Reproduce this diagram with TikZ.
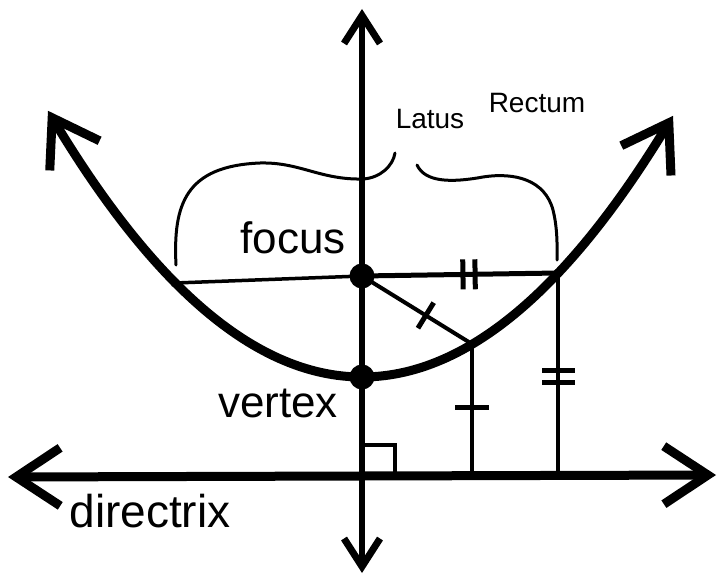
\documentclass[tikz,border=0pt]{standalone}
\usepackage{fontspec}
\setmainfont{Liberation Sans}
\usetikzlibrary{arrows.meta}
\begin{document}
\begin{tikzpicture}[x=1pt,y=-1pt,
  bigtip/.tip={Straight Barb[length=44pt,width=58pt,line width=9pt]},
  axtip/.tip={Straight Barb[length=28pt,width=36pt,line width=7pt]},
  curve/.style={line width=9pt,{bigtip}-{bigtip}},
  yaxis/.style={line width=6.5pt,{axtip}-{axtip}},
  dirline/.style={line width=9pt,{bigtip}-{bigtip}},
  thin/.style={line width=4pt},
  bigdot/.style={circle,fill=black,inner sep=0pt,minimum size=25pt},
  smalldot/.style={circle,fill=black,inner sep=0pt,minimum size=9pt},
  tickmark/.style={sloped,fill=black,inner sep=0pt,minimum width=5pt,minimum height=30pt},
  bracepen/.style={line width=3pt,line cap=round},
  lbl/.style={font=\fontsize{44}{48}\selectfont,inner sep=0pt},
  hand/.style={font=\fontsize{28}{30}\selectfont,inner sep=0pt}]
\useasboundingbox (0,0) rectangle (720,575);
% key points
\coordinate (Ytop) at (362,9);
\coordinate (Ybot) at (362,573);
\coordinate (Dl) at (8,477);
\coordinate (Dr) at (716,475);
\coordinate (L) at (175,283);
\coordinate (R) at (558,273);
\coordinate (P) at (472,344);
\coordinate (Pd) at (472,476);
\coordinate (Rd) at (558,476);
\coordinate (Bx1) at (362,445);
\coordinate (Bx2) at (395,476);
% axes
\draw[yaxis] (Ybot) -- (Ytop);
\draw[dirline] (Dl) -- (Dr);
% right angle box
\draw[thin] (Bx1) rectangle (Bx2);
% parabola
\draw[curve,domain=48:673,samples=120] plot (\x,{377-0.27*((\x-362)/10)^2});
% nodes
\node[bigdot] (F) at (362,276) {};
\node[bigdot] (V) at (362,377) {};
\node[smalldot] (Ld) at (L) {};
\node[smalldot] (Rdot) at (R) {};
% latus rectum
\draw[line width=3.5pt] (Ld.center) -- (F.center);
\draw[line width=5pt] (F.center) -- (Rdot.center)
  node[tickmark,pos=0.515] {} node[tickmark,pos=0.577] {};
% focus to P
\draw[thin] (F.center) -- (P) node[tickmark,pos=0.58] {};
% verticals
\draw[thin] (P) -- (Pd) node[tickmark,pos=0.48,minimum height=34pt] {};
\draw[thin] (Rdot.center) -- (Rd)
  node[tickmark,pos=0.48,minimum height=33pt] {}
  node[tickmark,pos=0.54,minimum height=33pt] {};
% braces
\draw[bracepen] (176,265) .. controls (173,205) and (185,166) .. (260,163)
  .. controls (300,162) and (320,180) .. (363,179)
  .. controls (380,178) and (393,166) .. (395,153);
\draw[bracepen] (417,165) .. controls (425,182) and (450,183) .. (483,177)
  .. controls (515,172) and (545,180) .. (553,210)
  .. controls (558,230) and (557,250) .. (557,260);
% labels
\node[lbl,anchor=base] (ft) at (293,253) {focus};
\node[lbl,anchor=base] (vt) at (278,417) {vertex};
\node[lbl,anchor=base,font=\fontsize{46}{50}\selectfont] (dt) at (150,527) {directrix};
\node[hand,anchor=base] (lr1) at (430,129) {Latus};
\node[hand,anchor=base] (lr2) at (537,113) {Rectum};
\end{tikzpicture}
\end{document}
